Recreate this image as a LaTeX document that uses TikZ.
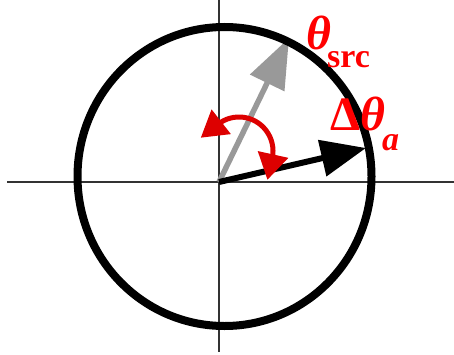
\documentclass[tikz,border=0pt]{standalone}
\usepackage{fontspec}
\setmainfont{Liberation Serif}
\usetikzlibrary{arrows.meta,calc}
\definecolor{LabelRed}{HTML}{FF0000}
\definecolor{ArcRed}{HTML}{DD0000}
\definecolor{ArrowGray}{HTML}{999999}
\definecolor{AxisInk}{HTML}{333333}
\tikzset{
  axisline/.style={line width=1.2pt, draw=AxisInk},
  ringedge/.style={line width=8pt, draw=black},
  srcarrow/.style={line width=5.5pt, draw=ArrowGray, -{Triangle[length=50pt,width=37pt]}},
  dirarrow/.style={line width=6pt, draw=black, -{Triangle[length=45pt,width=36pt]}},
  swingarc/.style={line width=5pt, draw=ArcRed, line join=round,
             {Triangle[length=26pt,width=30pt]}-{Triangle[length=26pt,width=30pt]}},
  plabel/.style={text=LabelRed, inner sep=0pt, anchor=base west},
}

\begin{document}
\begin{tikzpicture}[x=1pt,y=1pt]
\useasboundingbox (0,0) rectangle (454,354);
\coordinate (O) at (219,172);
\coordinate (src) at (289,316);
\coordinate (dir) at (366,206);
\coordinate (ring) at (224.5,177.5);
\coordinate (swing) at (239,203);
\coordinate (swA) at ($(swing)+(128:34)$);
\coordinate (swB) at ($(swing)+(-12.5:34)$);
% axes
\draw[axisline] (7,172) -- (454,172);
\draw[axisline] (219,2.5) -- (219,354);
% vectors
\draw[srcarrow] (O) -- (src);
\draw[dirarrow] (O) -- (dir);
\draw[swingarc] ($(swA)+(218:22)$) -- (swA) arc[start angle=128, end angle=-12.5, radius=34]
  -- ($(swB)+(-102.5:22)$);
\draw[ringedge] (ring) ellipse[x radius=147, y radius=149.5];
% labels
\node[plabel, font=\fontsize{48}{48}\selectfont\bfseries\itshape] (thsrc) at (306,304) {θ};
\node[plabel, font=\fontsize{34}{34}\selectfont\bfseries] (srclab) at (327,286) {src};
\node[plabel, font=\fontsize{48}{48}\selectfont\bfseries] (dtheta) at (330,224) {Δ\textit{θ}};
\node[plabel, font=\fontsize{34}{34}\selectfont\bfseries\itshape] (alab) at (382,204) {a};
\end{tikzpicture}
\end{document}
